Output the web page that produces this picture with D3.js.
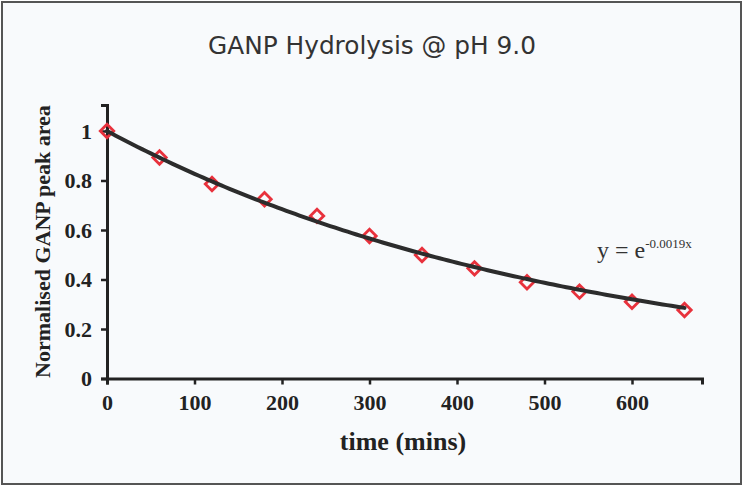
<!DOCTYPE html>
<html>
<head>
<meta charset="utf-8">
<script src="https://cdn.jsdelivr.net/npm/d3@7"></script>
<style>
  html, body { margin: 0; padding: 0; background: #ffffff; }
  svg { display: block; }
</style>
</head>
<body>
<svg id="chart" width="744" height="487"></svg>
<script>
// Sampling times (minutes) and normalised GANP peak areas
const times = [0, 60, 120, 180, 240, 300, 360, 420, 480, 540, 600, 660];
const peakArea = [1.0, 0.893, 0.786, 0.724, 0.657, 0.576, 0.499, 0.445, 0.389, 0.351, 0.310, 0.277];

// Fitted first-order decay y = e^(k x)
const rateConstant = -0.0019;
const fitTimes = d3.range(0, 661, 5);

const xTicks = [0, 100, 200, 300, 400, 500, 600];
const yTicks = [0, 0.2, 0.4, 0.6, 0.8, 1];
const yTickLabels = ["0", "0.2", "0.4", "0.6", "0.8", "1"];

const svg = d3.select("#chart");

// card background and frame
svg.append("rect")
  .attr("x", 2).attr("y", 2).attr("width", 739).attr("height", 482)
  .attr("fill", "#f8fafc")
  .attr("stroke", "#555").attr("stroke-width", 2);

const x = d3.scaleLinear().domain([0, 680]).range([107, 702]);
const y = d3.scaleLinear().domain([0, 1.105]).range([378.5, 105]);

const serif = "'Liberation Serif', 'Times New Roman', serif";

// title
svg.append("text")
  .attr("x", 372).attr("y", 54)
  .attr("text-anchor", "middle")
  .attr("font-family", "'DejaVu Sans', Verdana, sans-serif")
  .attr("font-size", 24)
  .attr("fill", "#333")
  .attr("textLength", 328)
  .attr("lengthAdjust", "spacingAndGlyphs")
  .text("GANP Hydrolysis @ pH 9.0");

// x axis
const xAxis = svg.append("g")
  .attr("transform", `translate(0,${y(0)})`)
  .call(d3.axisBottom(x).tickValues(xTicks).tickSize(6).tickPadding(10).tickFormat(d3.format("d")));
xAxis.select(".domain").attr("stroke", "#222").attr("stroke-width", 3);
xAxis.selectAll(".tick line").attr("stroke", "#222").attr("stroke-width", 2.5);
xAxis.selectAll(".tick text")
  .attr("font-family", serif).attr("font-weight", "bold")
  .attr("font-size", 22).attr("fill", "#222");

// y axis
const yAxis = svg.append("g")
  .attr("transform", `translate(${x(0)},0)`)
  .call(d3.axisLeft(y).tickValues(yTicks).tickSize(6).tickPadding(9)
    .tickFormat((d, i) => yTickLabels[i]));
yAxis.select(".domain").attr("stroke", "#222").attr("stroke-width", 3);
yAxis.selectAll(".tick line").attr("stroke", "#222").attr("stroke-width", 2.5);
yAxis.selectAll(".tick text")
  .attr("font-family", serif).attr("font-weight", "bold")
  .attr("font-size", 22).attr("fill", "#222");

// axis titles
svg.append("text")
  .attr("x", 403).attr("y", 450)
  .attr("text-anchor", "middle")
  .attr("font-family", serif).attr("font-weight", "bold")
  .attr("font-size", 26).attr("fill", "#222")
  .text("time (mins)");

svg.append("text")
  .attr("transform", "translate(50,241.5) rotate(-90)")
  .attr("text-anchor", "middle")
  .attr("font-family", serif).attr("font-weight", "bold")
  .attr("font-size", 22).attr("fill", "#222")
  .text("Normalised GANP peak area");

// data markers (open diamonds)
const diamond = d3.symbol().type(d3.symbolDiamond2).size(115);
svg.append("g").selectAll("path")
  .data(times.map((t, i) => [t, peakArea[i]]))
  .join("path")
  .attr("d", diamond)
  .attr("transform", d => `translate(${x(d[0])},${y(d[1])})`)
  .attr("fill", "none")
  .attr("stroke", "#e8313c")
  .attr("stroke-width", 2.8);

// fitted exponential curve
const line = d3.line().x(d => x(d)).y(d => y(Math.exp(rateConstant * d)));
svg.append("path")
  .datum(fitTimes)
  .attr("d", line)
  .attr("fill", "none")
  .attr("stroke", "#2c2c2c")
  .attr("stroke-width", 4)
  .attr("stroke-linecap", "round");

// equation label
const eq = svg.append("text")
  .attr("x", 597).attr("y", 258)
  .attr("font-family", serif)
  .attr("font-size", 24).attr("fill", "#333");
eq.append("tspan").text("y = e");
eq.append("tspan").attr("dy", -10).attr("font-size", 13).text("-0.0019x");
</script>
</body>
</html>
